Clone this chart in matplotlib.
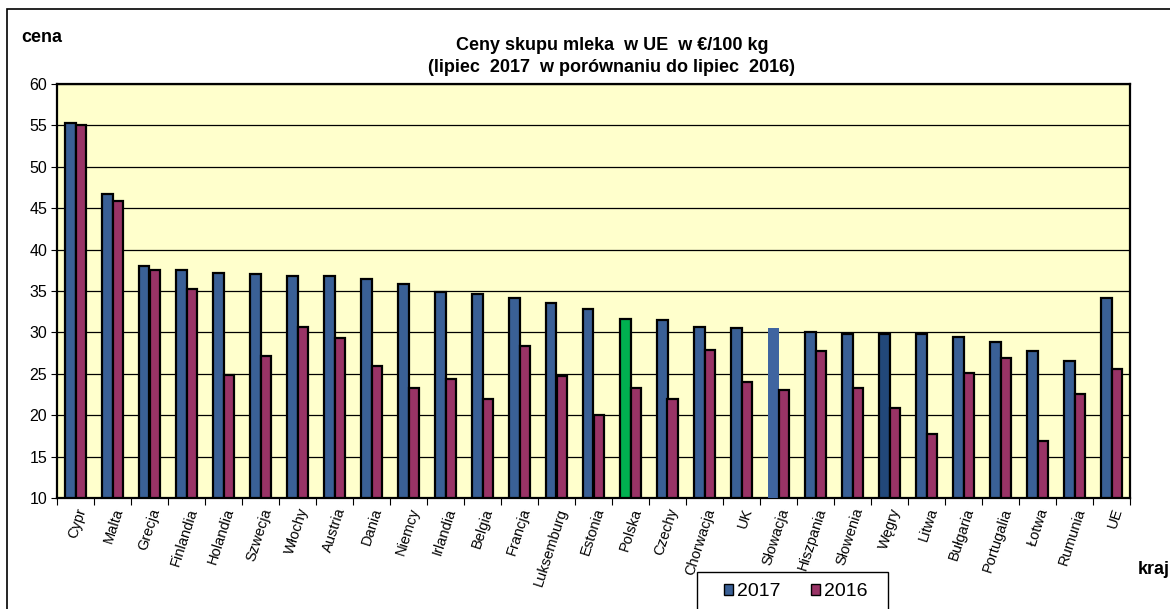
import numpy as np
import matplotlib
matplotlib.use("Agg")
import matplotlib.pyplot as plt
from matplotlib.patches import Rectangle, Patch

plt.rcParams['font.family'] = ['Liberation Sans', 'DejaVu Sans']

# data
kraje = ["Cypr", "Malta", "Grecja", "Finlandia", "Holandia", "Szwecja", "Włochy",
         "Austria", "Dania", "Niemcy", "Irlandia", "Belgia", "Francja", "Luksemburg",
         "Estonia", "Polska", "Czechy", "Chorwacja", "UK", "Słowacja", "Hiszpania",
         "Słowenia", "Węgry", "Litwa", "Bułgaria", "Portugalia", "Łotwa", "Rumunia", "UE"]
ceny_2017 = [55.3, 46.7, 38.0, 37.5, 37.2, 37.1, 36.8, 36.8, 36.5, 35.8, 34.9, 34.6,
             34.1, 33.6, 32.8, 31.6, 31.5, 30.6, 30.5, 30.5, 30.1, 29.8, 29.8, 29.8,
             29.4, 28.8, 27.8, 26.6, 34.2]
ceny_2016 = [55.0, 45.9, 37.5, 35.3, 24.9, 27.2, 30.6, 29.3, 26.0, 23.3, 24.4, 22.0,
             28.4, 24.7, 20.0, 23.3, 21.9, 27.9, 24.0, 23.0, 27.8, 23.3, 20.9, 17.7,
             25.1, 26.9, 16.9, 22.6, 25.6]

niebieski = "#3A6096"
bordowy = "#993366"

fig = plt.figure(figsize=(11.7, 6.09), dpi=100)
ax = fig.add_axes([57 / 1170, 1 - 498 / 609, 1073 / 1170, 414 / 609])
ax.set_facecolor("#FFFFCC")

x = np.arange(len(kraje))
w = 0.285
kolory = [niebieski] * len(kraje)
kolory[kraje.index("Polska")] = "#00B050"
kolory[kraje.index("Węgry")] = "#22487A"
b1 = ax.bar(x - w / 2, [v - 10 for v in ceny_2017], w, bottom=10, color=kolory,
            edgecolor="black", linewidth=1.6, zorder=3)
# Slowacja bar drawn without outline
b1[kraje.index("Słowacja")].set_edgecolor("none")
b1[kraje.index("Słowacja")].set_facecolor("#3F65A0")
ax.bar(x + w / 2, [v - 10 for v in ceny_2016], w, bottom=10, color=bordowy,
       edgecolor="black", linewidth=1.6, zorder=3)

ax.set_xlim(-0.5, len(kraje) - 0.5)
ax.set_ylim(10, 60)
ax.set_yticks(range(10, 61, 5))
ax.yaxis.grid(True, color="black", linewidth=0.9, zorder=1)
ax.tick_params(axis="y", labelsize=11.5, length=4, direction="out", pad=3)
ax.set_xticks(np.arange(-0.5, len(kraje), 1))
ax.set_xticklabels([])
ax.set_xticks(x, minor=True)
ax.set_xticklabels(kraje, minor=True, rotation=72, ha="right", va="top",
                   fontsize=10.5, rotation_mode="anchor")
ax.tick_params(axis="x", which="major", length=5, direction="out")
ax.tick_params(axis="x", which="minor", length=0, pad=6)
for s in ax.spines.values():
    s.set_linewidth(1.6)

fig.text(612 / 1170, 1 - 46 / 609, "Ceny skupu mleka  w UE  w €/100 kg",
         ha="center", va="center", fontsize=13, fontweight="bold")
fig.text(612 / 1170, 1 - 67 / 609, "(lipiec  2017  w porównaniu do lipiec  2016)",
         ha="center", va="center", fontsize=13, fontweight="bold")
fig.text(21 / 1170, 1 - 37 / 609, "cena", ha="left", va="center", fontsize=13,
         fontweight="bold")
fig.text(1138 / 1170, 1 - 570 / 609, "kraj", ha="left", va="center", fontsize=13,
         fontweight="bold")

# outer frame of the chart
fig.patches.append(Rectangle((7 / 1170, -0.05), 1.2, 1 - 9 / 609 + 0.05,
                             transform=fig.transFigure, fill=False,
                             edgecolor="black", linewidth=1.2))

# legend frame drawn by hand (wider than matplotlib padding allows)
fig.patches.append(Rectangle((697 / 1170, -0.05), 191 / 1170, 1 - 572 / 609 + 0.05,
                             transform=fig.transFigure, facecolor="white",
                             edgecolor="black", linewidth=1.0, zorder=5))
uchwyty = [Patch(facecolor=niebieski, edgecolor="black", label="2017"),
           Patch(facecolor=bordowy, edgecolor="black", label="2016")]
leg = fig.legend(handles=uchwyty, loc="center left",
                 bbox_to_anchor=(724 / 1170, 1 - 592 / 609),
                 ncol=2, fontsize=14, frameon=False,
                 handlelength=0.47, handleheight=0.47, handletextpad=0.2,
                 columnspacing=1.55, borderpad=0, borderaxespad=0)
leg.set_zorder(6)

fig.savefig("out.png", dpi=100)
